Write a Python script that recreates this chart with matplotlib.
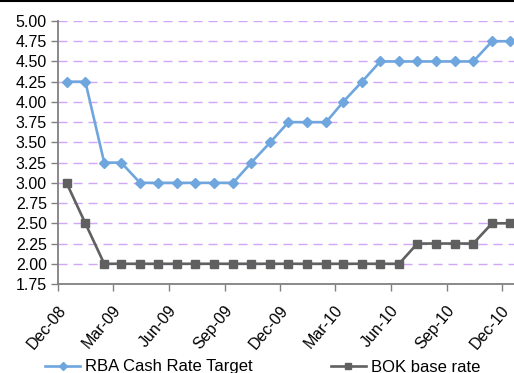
import matplotlib
matplotlib.use("Agg")
import matplotlib.pyplot as plt
import matplotlib.dates as mdates
import matplotlib.transforms as mtransforms
from matplotlib.lines import Line2D
from matplotlib.ticker import MultipleLocator, FormatStrFormatter
import datetime as dt

# ---- data ----
months = [(2008, 12)] + [(2009, m) for m in range(1, 13)] + [(2010, m) for m in range(1, 13)]
dates = [dt.date(y, m, 15) for y, m in months]
rba = [4.25, 4.25, 3.25, 3.25, 3.00, 3.00, 3.00, 3.00, 3.00, 3.00, 3.25, 3.50, 3.75,
       3.75, 3.75, 4.00, 4.25, 4.50, 4.50, 4.50, 4.50, 4.50, 4.50, 4.75, 4.75]
bok = [3.00, 2.50, 2.00, 2.00, 2.00, 2.00, 2.00, 2.00, 2.00, 2.00, 2.00, 2.00, 2.00,
       2.00, 2.00, 2.00, 2.00, 2.00, 2.00, 2.25, 2.25, 2.25, 2.25, 2.50, 2.50]
series_names = ["RBA Cash Rate Target", "BOK base rate"]

plt.rcParams['font.family'] = ['Liberation Sans', 'DejaVu Sans']
FS = 11.5

W, H = 514, 373
fig = plt.figure(figsize=(W / 100, H / 100), dpi=100)
ax = fig.add_axes([58 / W, 1 - 284 / H, 1 - 58 / W, (284 - 21) / H])

rba_c = '#6fa6de'
bok_c = '#606060'
ax.plot(dates, rba, color=rba_c, lw=1.9, marker='D', ms=5.5, mec=rba_c, mfc=rba_c,
        label=series_names[0], zorder=3, clip_on=False)
ax.plot(dates, bok, color=bok_c, lw=1.9, marker='s', ms=5.5, mec=bok_c, mfc=bok_c,
        label=series_names[1], zorder=3, clip_on=False)

ax.set_ylim(1.75, 5.0)
ax.yaxis.set_major_locator(MultipleLocator(0.25))
ax.yaxis.set_major_formatter(FormatStrFormatter('%.2f'))
ax.set_xlim(dt.date(2008, 12, 1), dt.date(2010, 12, 21))
ax.xaxis.set_major_locator(mdates.MonthLocator(bymonth=[3, 6, 9, 12], bymonthday=1))
ax.xaxis.set_major_formatter(mdates.DateFormatter('%b-%y'))

ax.grid(axis='y', color='#cfa6f8', lw=1.0, linestyle=(0, (6.5, 4.3)))
ax.set_axisbelow(True)
for s in ['top', 'right']:
    ax.spines[s].set_visible(False)
for s in ['left', 'bottom']:
    ax.spines[s].set_color('#808080')
    ax.spines[s].set_linewidth(1.3)
ax.tick_params(axis='both', direction='out', length=5, width=1.0, color='#808080',
               labelsize=FS, labelcolor='black')
ax.tick_params(axis='y', pad=3)
ax.tick_params(axis='x', pad=2)
offset = mtransforms.ScaledTranslation(5 / 100, -14 / 100, fig.dpi_scale_trans)
for lab in ax.get_xticklabels():
    lab.set_rotation(50)
    lab.set_ha('right')
    lab.set_va('center')
    lab.set_rotation_mode('anchor')
    lab.set_transform(lab.get_transform() + offset)

handles = [Line2D([], [], color=rba_c, lw=1.9, marker='D', ms=4.5),
           Line2D([], [], color=bok_c, lw=1.9, marker='s', ms=5)]
fig.legend(handles, series_names, loc='center left', bbox_to_anchor=(45 / W, 1 - 367 / H),
           ncol=2, frameon=False, fontsize=12, borderpad=0, borderaxespad=0,
           handlelength=2.1, handletextpad=0.3, columnspacing=4.7)

fig.add_artist(Line2D([0, 1], [1 - 0.8 / H, 1 - 0.8 / H], transform=fig.transFigure,
                      color='black', lw=1.5))

fig.savefig('out.png', dpi=100)
